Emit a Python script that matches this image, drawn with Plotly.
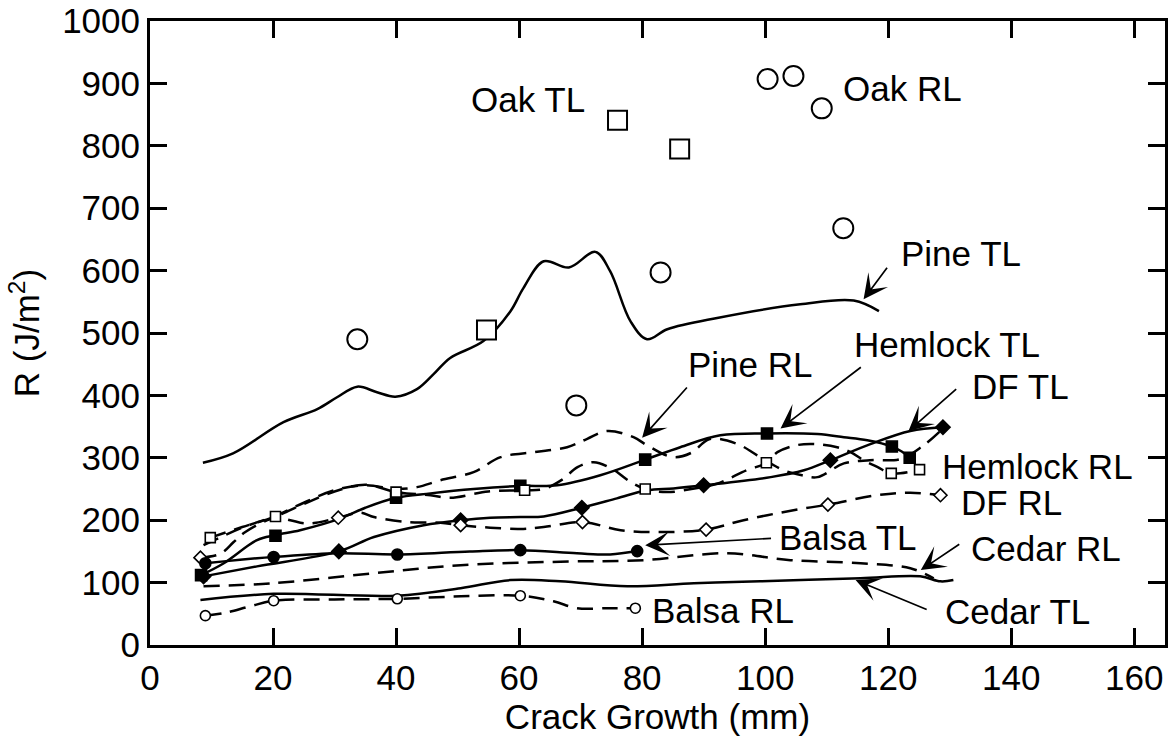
import plotly.graph_objects as go

# ---------------- data ----------------
x_ticks = [0, 20, 40, 60, 80, 100, 120, 140, 160]
y_ticks = [0, 100, 200, 300, 400, 500, 600, 700, 800, 900, 1000]

oak_tl_x = [54.7, 76.0, 86.1]
oak_tl_y = [505, 841, 795]
oak_rl_x = [33.7, 69.3, 83.0, 100.4, 104.6, 109.2, 112.7]
oak_rl_y = [490, 384, 597, 907, 912, 860, 668]

pine_tl_x = [8.6, 13.5, 21.7, 27.2, 30.4, 33.7, 36.9, 39.9, 43.4, 46.1, 48.8, 54.2, 58.6, 60.7,
             64.0, 68.1, 72.4, 74.8, 78.1, 80.8, 84.1, 92.2, 105.7, 114.4, 118.5]
pine_tl_y = [292, 307, 357, 378, 397, 414, 405, 398, 410, 434, 460, 487, 535, 572,
             615, 605, 630, 599, 519, 490, 506, 524, 546, 552, 535]

pine_rl_x = [8.7, 15.0, 20.4, 25.0, 30.0, 35.0, 40.0, 43.4, 47.2, 52.6, 57.0, 62.4, 67.8, 71.0,
             74.3, 78.6, 80.8, 85.0, 88.0, 91.0, 95.5, 98.7, 103.0, 106.0, 108.5, 112.8, 117.0,
             122.0, 125.5, 128.8]
pine_rl_y = [160, 188, 207, 228, 248, 256, 250, 253, 264, 277, 301, 309, 317, 330,
             343, 333, 320, 301, 308, 330, 322, 304, 280, 272, 269, 291, 296,
             298, 318, 346]

hem_tl_x = [8.3, 12.0, 17.4, 20.4, 24.4, 31.0, 35.0, 40.0, 45.6, 52.6, 60.2, 66.2, 73.2, 80.5,
            86.2, 92.7, 100.3, 108.5, 112.8, 116.6, 120.6, 122.2, 123.5]
hem_tl_y = [112, 131, 168, 176, 184, 203, 220, 236, 243, 250, 255, 256, 272, 297,
            317, 336, 339, 338, 333, 328, 318, 310, 300]
hem_tl_mx = [8.3, 20.4, 40.0, 60.2, 80.5, 100.3, 120.6, 123.5]
hem_tl_my = [112, 175, 236, 255, 297, 339, 318, 300]

hem_rl_x = [9.8, 15.0, 20.4, 25.0, 30.0, 35.0, 40.0, 45.6, 48.8, 55.0, 60.9, 64.0, 67.0, 69.5,
            72.1, 75.0, 78.0, 80.5, 84.0, 88.0, 92.0, 97.0, 100.2, 102.0, 105.0, 108.0, 111.7,
            113.9, 116.0, 118.3, 120.5, 125.1]
hem_rl_y = [172, 189, 206, 226, 246, 257, 245, 240, 236, 246, 248, 250, 265, 285,
            293, 283, 262, 250, 245, 250, 258, 280, 292, 309, 320, 322, 317,
            309, 296, 285, 275, 281]
hem_rl_mx = [9.8, 20.4, 40.0, 60.9, 80.5, 100.2, 120.5, 125.1]
hem_rl_my = [172, 206, 245, 248, 250, 292, 275, 281]

df_tl_x = [8.7, 17.4, 30.7, 36.4, 44.5, 50.5, 55.3, 60.2, 64.0, 70.2, 75.9, 80.8, 85.1, 90.0,
           100.9, 106.3, 110.6, 117.1, 123.6, 128.9]
df_tl_y = [110, 126, 150, 173, 192, 200, 204, 205, 206, 220, 235, 248, 251, 256,
           269, 280, 296, 322, 343, 349]
df_tl_mx = [8.7, 30.7, 50.5, 70.2, 90.0, 110.6, 128.9]
df_tl_my = [110, 150, 200, 220, 256, 296, 349]

df_rl_x = [8.2, 11.4, 13.6, 15.5, 20.4, 22.8, 25.0, 27.0, 30.6, 34.2, 36.4, 41.8, 47.2, 50.5,
           55.3, 60.2, 64.0, 70.3, 76.5, 83.0, 90.4, 96.5, 104.6, 110.2, 118.2, 123.6, 128.5]
df_rl_y = [140, 146, 165, 181, 204, 200, 195, 196, 204, 212, 205, 197, 196, 192,
           188, 186, 189, 197, 184, 181, 185, 200, 216, 225, 240, 244, 240]
df_rl_mx = [8.2, 30.6, 50.5, 70.3, 90.4, 110.2, 128.5]
df_rl_my = [140, 204, 192, 197, 185, 225, 240]

balsa_tl_x = [9.0, 12.0, 17.4, 20.1, 30.4, 40.2, 52.0, 60.2, 69.4, 74.8, 79.2]
balsa_tl_y = [131, 134, 139, 141, 147, 145, 150, 152, 147, 145, 150.5]
balsa_tl_mx = [9.0, 20.1, 40.2, 60.2, 79.2]
balsa_tl_my = [131, 141, 145, 152, 150.5]

balsa_rl_x = [9.0, 12.0, 16.3, 20.1, 30.0, 40.2, 50.5, 60.2, 65.6, 69.4, 74.8, 78.9]
balsa_rl_y = [47, 51, 62, 71, 73, 74, 78, 79, 70, 59, 59, 59]
balsa_rl_mx = [9.0, 20.1, 40.2, 60.2, 78.9]
balsa_rl_my = [47, 71, 74, 79, 59]

cedar_tl_x = [8.2, 20.1, 40.2, 50.5, 58.6, 66.7, 77.6, 88.4, 99.2, 115.5, 125.2, 128.5, 130.6]
cedar_tl_y = [72, 82, 79, 91, 104, 102, 94, 99, 102, 107, 110, 102, 104]

cedar_rl_x = [8.7, 20.0, 36.4, 50.5, 66.7, 80.3, 93.8, 104.1, 115.5, 123.6, 127.4]
cedar_rl_y = [94, 99, 115, 128, 133.5, 136, 147, 136, 131, 123, 107]

# ---------------- figure ----------------
fig = go.Figure()
DASH = "16px,9px"


def add_line(x, y, dash="solid"):
    fig.add_trace(go.Scatter(x=x, y=y, mode="lines", hoverinfo="skip", showlegend=False,
                             line=dict(color="black", width=2.5, shape="spline",
                                       smoothing=1.0, dash=dash)))


def add_marks(x, y, symbol, fill, size, lw=1.6):
    fig.add_trace(go.Scatter(x=x, y=y, mode="markers", showlegend=False,
                             marker=dict(symbol=symbol, color=fill, size=size,
                                         line=dict(color="black", width=lw))))


add_line(pine_tl_x, pine_tl_y)
add_line(pine_rl_x, pine_rl_y, DASH)
add_line(hem_tl_x, hem_tl_y)
add_line(hem_rl_x, hem_rl_y, DASH)
add_line(df_tl_x, df_tl_y)
add_line(df_rl_x, df_rl_y, DASH)
add_line(balsa_tl_x, balsa_tl_y)
add_line(balsa_rl_x, balsa_rl_y, DASH)
add_line(cedar_tl_x, cedar_tl_y)
add_line(cedar_rl_x, cedar_rl_y, DASH)

add_marks(hem_tl_mx, hem_tl_my, "square", "black", 11)
add_marks(hem_rl_mx, hem_rl_my, "square", "white", 10)
add_marks(df_tl_mx, df_tl_my, "diamond", "black", 11)
add_marks(df_rl_mx, df_rl_my, "diamond", "white", 10)
add_marks(balsa_tl_mx, balsa_tl_my, "circle", "black", 11)
add_marks(balsa_rl_mx, balsa_rl_my, "circle", "white", 10)
add_marks(oak_tl_x, oak_tl_y, "square", "white", 19, 2)
add_marks(oak_rl_x, oak_rl_y, "circle", "white", 20, 2)

# labels (text only)
labels = [
    ("Oak TL", 61.5, 875), ("Oak RL", 122.3, 892), ("Pine TL", 131.9, 627),
    ("Pine RL", 97.6, 449), ("Hemlock TL", 129.6, 482), ("DF TL", 141.5, 414),
    ("Hemlock RL", 144.3, 286), ("DF RL", 140.1, 229), ("Balsa TL", 113.4, 173),
    ("Cedar RL", 145.6, 155), ("Cedar TL", 141.0, 53), ("Balsa RL", 93.1, 56),
]
for t, lx, ly in labels:
    fig.add_annotation(x=lx, y=ly, text=t, showarrow=False, xanchor="center",
                       yanchor="middle", font=dict(size=35, color="black"))

# arrows: (tail x, tail y, head x, head y)
arrows = [
    (120.0, 607, 116.0, 554),   # Pine TL
    (87.5, 415, 80.0, 332),     # Pine RL
    (115.8, 447, 102.5, 347),   # Hemlock TL
    (131.3, 412, 123.3, 343),   # DF TL
    (101.2, 171, 80.5, 160),    # Balsa TL
    (131.8, 163, 125.3, 120),   # Cedar RL
    (126.5, 56, 114.7, 104),    # Cedar TL
]
for tx, ty, hx, hy in arrows:
    fig.add_annotation(x=hx, y=hy, ax=tx, ay=ty, axref="x", ayref="y", xref="x", yref="y",
                       text="", showarrow=True, arrowhead=3, arrowsize=2.4,
                       arrowwidth=1.7, arrowcolor="black")

axis_common = dict(ticks="inside", ticklen=17, tickwidth=3, tickcolor="black",
                   showline=True, linewidth=3, linecolor="black", mirror="ticks",
                   showgrid=False, zeroline=False, ticklabeloverflow="allow",
                   automargin=False, tickfont=dict(size=35, color="black"))

fig.update_xaxes(range=[0, 165], tickvals=x_ticks, ticktext=[str(v) for v in x_ticks],
                 title=dict(text="Crack Growth (mm)", font=dict(size=35), standoff=6),
                 **axis_common)
fig.update_yaxes(range=[0, 1000], tickvals=y_ticks, ticktext=[str(v) for v in y_ticks],
                 title=dict(text="R (J/m<sup>2</sup>)", font=dict(size=35), standoff=12),
                 **axis_common)

fig.update_layout(width=1170, height=736, margin=dict(l=150, r=5, t=21, b=91),
                  plot_bgcolor="white", paper_bgcolor="white", showlegend=False,
                  font=dict(family="Liberation Sans, Arial, Helvetica, sans-serif",
                            size=35, color="black"))

fig.write_html("out.html")
